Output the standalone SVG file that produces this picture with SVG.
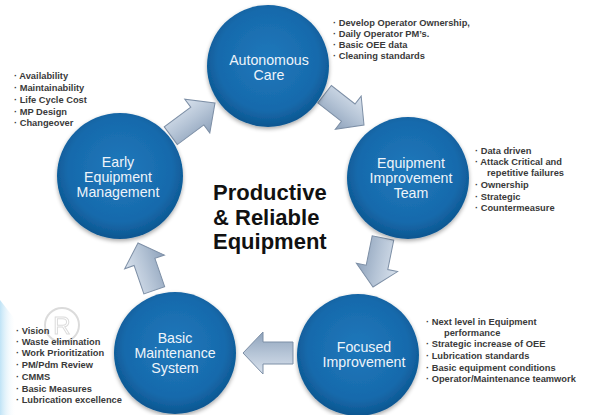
<svg xmlns="http://www.w3.org/2000/svg" width="595" height="415" viewBox="0 0 595 415">
<defs>
<radialGradient id="cg" cx="50%" cy="45%" r="55%">
<stop offset="0" stop-color="#1f78bb"/>
<stop offset="0.75" stop-color="#176aac"/>
<stop offset="1" stop-color="#0c5690"/>
</radialGradient>
<linearGradient id="ag" x1="0" y1="0" x2="0" y2="1">
<stop offset="0" stop-color="#d9e2ed"/>
<stop offset="0.5" stop-color="#b5c4d6"/>
<stop offset="1" stop-color="#8ea2bb"/>
</linearGradient>
<linearGradient id="lg" x1="0" y1="0" x2="1" y2="0">
<stop offset="0" stop-color="#bfe3f6"/>
<stop offset="1" stop-color="#ffffff" stop-opacity="0"/>
</linearGradient>
<filter id="sh" x="-20%" y="-20%" width="140%" height="140%">
<feGaussianBlur in="SourceAlpha" stdDeviation="2"/>
<feOffset dx="0" dy="2"/>
<feComponentTransfer><feFuncA type="linear" slope="0.35"/></feComponentTransfer>
<feMerge><feMergeNode/><feMergeNode in="SourceGraphic"/></feMerge>
</filter>
<path id="arrow" d="M0,0 L-20,-21 L-20,-11 L-50,-11 L-50,11 L-20,11 L-20,21 Z"/>
</defs>
<style>
.circ{fill:url(#cg);filter:url(#sh)}
.lbl{font-family:"Liberation Sans",Arial,sans-serif;font-size:14.2px;fill:#eef4fa;text-anchor:middle}
.bul{font-family:"Liberation Sans",Arial,sans-serif;font-size:9.3px;font-weight:bold;fill:#3a3a3a}
.title{font-family:"Liberation Sans",Arial,sans-serif;font-size:22px;font-weight:bold;fill:#111}
.arr{fill:url(#ag);stroke:#7d8fa6;stroke-width:1}
</style>
<rect width="595" height="415" fill="#ffffff"/>
<polygon points="0,300 14,318 16,415 0,415" fill="url(#lg)"/>
<g id="registered" opacity="0.35">
<circle cx="62" cy="325" r="17" fill="none" stroke="#9a9a9a" stroke-width="2"/>
<text x="62" y="334" font-family="Liberation Sans,Arial,sans-serif" font-size="24" fill="none" stroke="#9a9a9a" stroke-width="1" text-anchor="middle">R</text>
</g>
<g id="connectors">
<use href="#arrow" class="arr" transform="translate(215,103) rotate(-36.5) scale(1.1,1)"/>
<use href="#arrow" class="arr" transform="translate(364,125) rotate(38)"/>
<use href="#arrow" class="arr" transform="translate(373,287) rotate(101.5)"/>
<use href="#arrow" class="arr" transform="translate(243,353) rotate(180)"/>
<use href="#arrow" class="arr" transform="translate(138,243) rotate(-109)"/>
</g>
<g id="autonomous-care">
<circle class="circ" cx="268" cy="66" r="61"/>
<text class="lbl" x="269" y="65">Autonomous</text>
<text class="lbl" x="269" y="80">Care</text>
</g>
<g id="equipment-improvement-team">
<circle class="circ" cx="408" cy="178" r="61"/>
<text class="lbl" x="411" y="168">Equipment</text>
<text class="lbl" x="411" y="183">Improvement</text>
<text class="lbl" x="411" y="198">Team</text>
</g>
<g id="focused-improvement">
<circle class="circ" cx="358" cy="355" r="61"/>
<text class="lbl" x="364" y="352">Focused</text>
<text class="lbl" x="364" y="367">Improvement</text>
</g>
<g id="basic-maintenance-system">
<circle class="circ" cx="175" cy="353" r="61"/>
<text class="lbl" x="175" y="343">Basic</text>
<text class="lbl" x="175" y="358">Maintenance</text>
<text class="lbl" x="175" y="373">System</text>
</g>
<g id="early-equipment-management">
<circle class="circ" cx="120" cy="176" r="63"/>
<text class="lbl" x="118" y="167">Early</text>
<text class="lbl" x="118" y="182">Equipment</text>
<text class="lbl" x="118" y="197">Management</text>
</g>
<g id="center-title">
<text class="title" x="213" y="200">Productive</text>
<text class="title" x="213" y="225">&amp; Reliable</text>
<text class="title" x="213" y="249">Equipment</text>
</g>
<g id="notes-autonomous">
<text class="bul" x="333" y="26">· Develop Operator Ownership,</text>
<text class="bul" x="333" y="37">· Daily Operator PM’s.</text>
<text class="bul" x="333" y="48">· Basic OEE data</text>
<text class="bul" x="333" y="59">· Cleaning standards</text>
</g>
<g id="notes-early">
<text class="bul" x="14" y="79">· Availability</text>
<text class="bul" x="14" y="91">· Maintainability</text>
<text class="bul" x="14" y="103">· Life Cycle Cost</text>
<text class="bul" x="14" y="115">· MP Design</text>
<text class="bul" x="14" y="126">· Changeover</text>
</g>
<g id="notes-eit">
<text class="bul" x="475" y="154">· Data driven</text>
<text class="bul" x="475" y="165">· Attack Critical and</text>
<text class="bul" x="487" y="176">repetitive failures</text>
<text class="bul" x="475" y="188">· Ownership</text>
<text class="bul" x="475" y="200">· Strategic</text>
<text class="bul" x="475" y="211">· Countermeasure</text>
</g>
<g id="notes-focused">
<text class="bul" x="426" y="325">· Next level in Equipment</text>
<text class="bul" x="444" y="336">performance</text>
<text class="bul" x="426" y="347">· Strategic increase of OEE</text>
<text class="bul" x="426" y="359">· Lubrication standards</text>
<text class="bul" x="426" y="371">· Basic equipment conditions</text>
<text class="bul" x="426" y="382">· Operator/Maintenance teamwork</text>
</g>
<g id="notes-basic">
<text class="bul" x="16" y="334">· Vision</text>
<text class="bul" x="16" y="345">· Waste elimination</text>
<text class="bul" x="16" y="356">· Work Prioritization</text>
<text class="bul" x="16" y="368">· PM/Pdm Review</text>
<text class="bul" x="16" y="380">· CMMS</text>
<text class="bul" x="16" y="392">· Basic Measures</text>
<text class="bul" x="16" y="403">· Lubrication excellence</text>
</g>
</svg>
